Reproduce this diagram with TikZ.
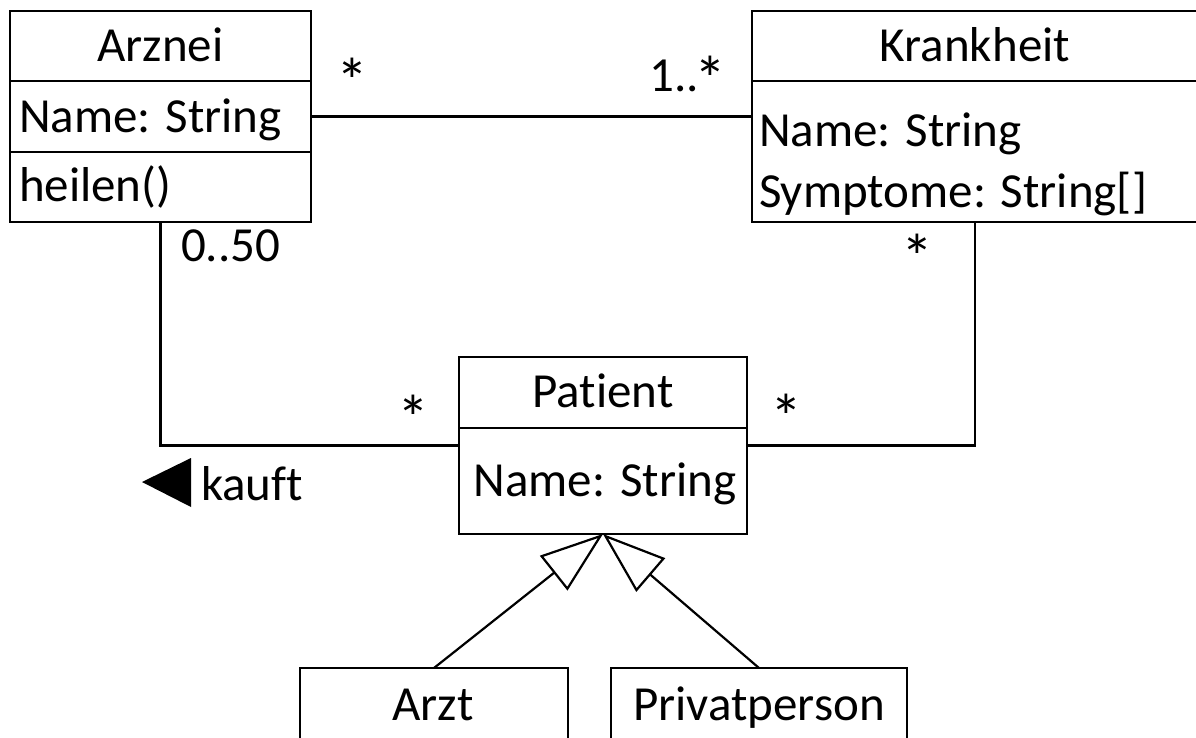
\documentclass[tikz,border=0pt]{standalone}
\usepackage{fontspec}
\setmainfont{Carlito}[Ligatures=NoCommon]
\usetikzlibrary{arrows.meta}
\newcommand{\bigstar}{{\fontsize{32}{34}\selectfont *}}
\begin{document}
\begin{tikzpicture}[x=0.5pt,y=-0.5pt,
  box/.style={draw, line width=1.3pt, inner sep=0pt, outer sep=0pt, rectangle},
  sep/.style={line width=1.3pt},
  txt/.style={inner sep=0pt, outer sep=0pt, font=\fontsize{24.5}{27}\selectfont},
  conn/.style={line width=1.1pt},
  gen/.style={line width=1.1pt, -{Triangle[open, length=31.5pt, width=22pt, line width=1.1pt]}},
]
\useasboundingbox (0,0) rectangle (1196,738);
% class boxes
\node[box, minimum width=150.5pt, minimum height=105.5pt] (arznei) at (160.5,116.5) {};
\node[box, minimum width=223pt, minimum height=105.5pt] (krankheit) at (975,116.5) {};
\node[box, minimum width=144pt, minimum height=88.5pt] (patient) at (603,445.5) {};
\node[box, minimum width=134pt, minimum height=40pt] (arzt) at (434,708) {};
\node[box, minimum width=148pt, minimum height=40pt] (priv) at (759,708) {};
% dividers
\draw[sep] (arznei.west |- 0,81) -- (arznei.east |- 0,81);
\draw[sep] (arznei.west |- 0,152) -- (arznei.east |- 0,152);
\draw[sep] (krankheit.west |- 0,81) -- (krankheit.east |- 0,81);
\draw[sep] (patient.west |- 0,428) -- (patient.east |- 0,428);
% texts
\node[txt, anchor=base] (arzneiT) at (160.5,62) {Arznei};
\node[txt, anchor=base west] (arzneiA) at (19,133) {Name: String};
\node[txt, anchor=base west] (arzneiM) at (19,202) {heilen()};
\node[txt, anchor=base] (krankT) at (975,62) {Krankheit};
\node[txt, anchor=base west] (krankA) at (759,147) {Name: String};
\node[txt, anchor=base west] (krankB) at (759,208) {Symptome: String[]};
\node[txt, anchor=base] (patT) at (603,408) {Patient};
\node[txt, anchor=base] (patA) at (605,496) {Name: String};
\node[txt, anchor=base] (arztT) at (433,720) {Arzt};
\node[txt, anchor=base] (privT) at (759,720) {Privatperson};
% connectors
\draw[conn] (arznei.east) -- (krankheit.west);
\draw[conn] (arznei.south) |- (patient.west);
\draw[conn] (krankheit.south) |- (patient.east);
\draw[gen] (arzt.north) -- (patient.south);
\draw[gen] (priv.north) -- (patient.south);
% multiplicities
\node[txt, anchor=base] (m1) at (352,104) {\bigstar};
\node[txt, anchor=base east] (m2) at (726,92) {1..\kern-2.5pt\raisebox{-5pt}{\bigstar}};
\node[txt, anchor=base west] (m3) at (181,262) {0..50};
\node[txt, anchor=base] (m4) at (917,279) {\bigstar};
\node[txt, anchor=base] (m5) at (413,440) {\bigstar};
\node[txt, anchor=base] (m6) at (786,439) {\bigstar};
% role name
\fill (142,482) -- (191,458) -- (191,507) -- cycle;
\node[txt, anchor=base west] (kauft) at (201,500) {kauft};
\end{tikzpicture}
\end{document}
